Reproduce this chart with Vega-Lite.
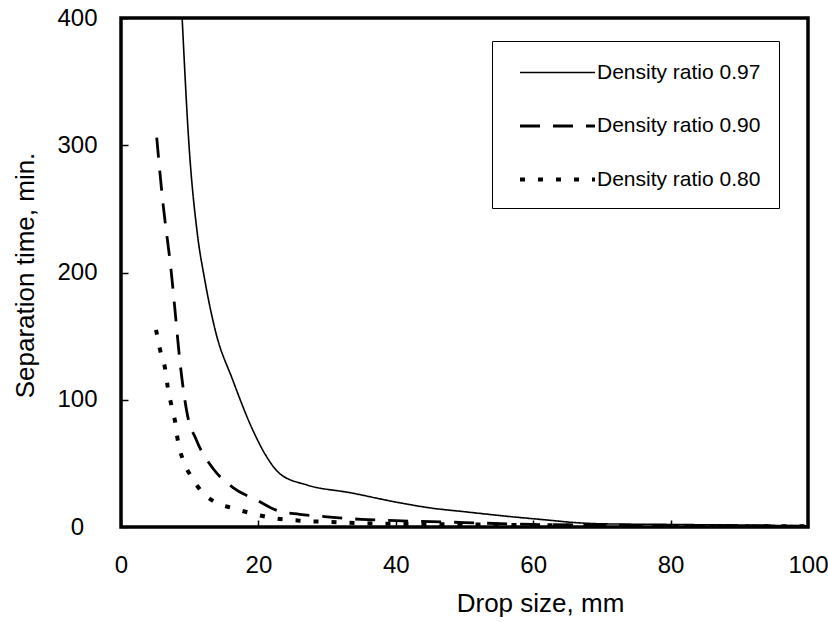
{
  "$schema": "https://vega.github.io/schema/vega-lite/v6.json",
  "autosize": {"type": "none"},
  "padding": {"left": 121, "top": 18, "right": 20, "bottom": 95},
  "width": 687,
  "height": 509,
  "background": "white",
  "config": {
    "font": "Liberation Sans",
    "view": {"stroke": "black", "strokeWidth": 3.5},
    "axis": {"labelColor": "black", "titleColor": "black", "tickColor": "black", "domain": false, "grid": false, "labelFontWeight": "normal", "titleFontWeight": "normal", "labelFlush": false}
  },
  "data": {
    "values": [
      {"series": "Density ratio 0.97", "x": 8.9, "y": 400},
      {"series": "Density ratio 0.97", "x": 9.9, "y": 300},
      {"series": "Density ratio 0.97", "x": 11.1, "y": 231},
      {"series": "Density ratio 0.97", "x": 12.2, "y": 194},
      {"series": "Density ratio 0.97", "x": 13.7, "y": 155},
      {"series": "Density ratio 0.97", "x": 16.3, "y": 115},
      {"series": "Density ratio 0.97", "x": 19.2, "y": 76},
      {"series": "Density ratio 0.97", "x": 21, "y": 57},
      {"series": "Density ratio 0.97", "x": 23.1, "y": 42},
      {"series": "Density ratio 0.97", "x": 27.1, "y": 33},
      {"series": "Density ratio 0.97", "x": 33.3, "y": 27},
      {"series": "Density ratio 0.97", "x": 40.6, "y": 19},
      {"series": "Density ratio 0.97", "x": 45, "y": 15},
      {"series": "Density ratio 0.97", "x": 50, "y": 12},
      {"series": "Density ratio 0.97", "x": 57, "y": 8},
      {"series": "Density ratio 0.97", "x": 62, "y": 5.5},
      {"series": "Density ratio 0.97", "x": 66, "y": 3.5},
      {"series": "Density ratio 0.97", "x": 70, "y": 2.5},
      {"series": "Density ratio 0.97", "x": 80, "y": 2},
      {"series": "Density ratio 0.97", "x": 90, "y": 1.5},
      {"series": "Density ratio 0.97", "x": 100, "y": 1},
      {"series": "Density ratio 0.90", "x": 5.2, "y": 306},
      {"series": "Density ratio 0.90", "x": 6, "y": 260},
      {"series": "Density ratio 0.90", "x": 7.4, "y": 196},
      {"series": "Density ratio 0.90", "x": 7.9, "y": 168},
      {"series": "Density ratio 0.90", "x": 8.6, "y": 129},
      {"series": "Density ratio 0.90", "x": 9.6, "y": 90},
      {"series": "Density ratio 0.90", "x": 11, "y": 68},
      {"series": "Density ratio 0.90", "x": 13.4, "y": 46},
      {"series": "Density ratio 0.90", "x": 16.3, "y": 31},
      {"series": "Density ratio 0.90", "x": 19.8, "y": 21},
      {"series": "Density ratio 0.90", "x": 22.7, "y": 13},
      {"series": "Density ratio 0.90", "x": 26, "y": 10},
      {"series": "Density ratio 0.90", "x": 30, "y": 8},
      {"series": "Density ratio 0.90", "x": 35, "y": 6},
      {"series": "Density ratio 0.90", "x": 40, "y": 5},
      {"series": "Density ratio 0.90", "x": 50, "y": 3.5},
      {"series": "Density ratio 0.90", "x": 60, "y": 2},
      {"series": "Density ratio 0.90", "x": 70, "y": 1.5},
      {"series": "Density ratio 0.90", "x": 80, "y": 1},
      {"series": "Density ratio 0.90", "x": 90, "y": 1},
      {"series": "Density ratio 0.90", "x": 100, "y": 0.5},
      {"series": "Density ratio 0.80", "x": 5.1, "y": 155},
      {"series": "Density ratio 0.80", "x": 5.7, "y": 139},
      {"series": "Density ratio 0.80", "x": 6.4, "y": 125},
      {"series": "Density ratio 0.80", "x": 6.8, "y": 110},
      {"series": "Density ratio 0.80", "x": 7.4, "y": 94},
      {"series": "Density ratio 0.80", "x": 7.9, "y": 82},
      {"series": "Density ratio 0.80", "x": 8.3, "y": 67},
      {"series": "Density ratio 0.80", "x": 9, "y": 53},
      {"series": "Density ratio 0.80", "x": 10.3, "y": 39},
      {"series": "Density ratio 0.80", "x": 11.8, "y": 27.5},
      {"series": "Density ratio 0.80", "x": 13.7, "y": 19.6},
      {"series": "Density ratio 0.80", "x": 16.2, "y": 14.9},
      {"series": "Density ratio 0.80", "x": 18.8, "y": 11},
      {"series": "Density ratio 0.80", "x": 22.1, "y": 7},
      {"series": "Density ratio 0.80", "x": 26, "y": 5},
      {"series": "Density ratio 0.80", "x": 30, "y": 4},
      {"series": "Density ratio 0.80", "x": 35, "y": 3},
      {"series": "Density ratio 0.80", "x": 40, "y": 2.5},
      {"series": "Density ratio 0.80", "x": 50, "y": 2},
      {"series": "Density ratio 0.80", "x": 60, "y": 1.5},
      {"series": "Density ratio 0.80", "x": 70, "y": 1},
      {"series": "Density ratio 0.80", "x": 100, "y": 0.5}
    ]
  },
  "mark": {"type": "line", "interpolate": "monotone", "color": "black", "clip": true},
  "encoding": {
    "x": {
      "field": "x", "type": "quantitative",
      "scale": {"domain": [0, 100], "nice": false},
      "axis": {"values": [0, 20, 40, 60, 80, 100], "title": "Drop size, mm", "labelFontSize": 24, "titleFontSize": 26, "tickSize": -7, "tickWidth": 1.5, "labelPadding": 33, "titleX": 419, "titleY": 63, "titleBaseline": "top", "titleAnchor": "middle"}
    },
    "y": {
      "field": "y", "type": "quantitative",
      "scale": {"domain": [0, 400], "nice": false},
      "axis": {"values": [0, 100, 200, 300, 400], "title": "Separation time, min.", "labelFontSize": 24, "titleFontSize": 26, "tickSize": -7, "tickWidth": 1.5, "labelPadding": 51, "labelAlign": "center", "labelBaseline": "middle", "titleX": -96, "titleY": 257, "titleBaseline": "middle", "titleAnchor": "middle"}
    },
    "strokeDash": {
      "field": "series", "type": "ordinal",
      "scale": {"domain": ["Density ratio 0.97", "Density ratio 0.90", "Density ratio 0.80"], "range": [[1, 0], [20, 13], [5, 13]]},
      "legend": {"title": null, "orient": "none", "legendX": 371, "legendY": 23, "padding": 18, "symbolOffset": 33, "symbolType": "M-3,0H3", "symbolSize": 625, "symbolStrokeColor": "black", "symbolStrokeWidth": 3, "labelFontSize": 21, "labelColor": "black", "labelOffset": 25, "rowPadding": 29, "strokeColor": "black", "fillColor": "white", "labelLimit": 300}
    },
    "strokeWidth": {
      "field": "series", "type": "ordinal",
      "scale": {"domain": ["Density ratio 0.97", "Density ratio 0.90", "Density ratio 0.80"], "range": [1.6, 4, 5]},
      "legend": null
    }
  }
}
